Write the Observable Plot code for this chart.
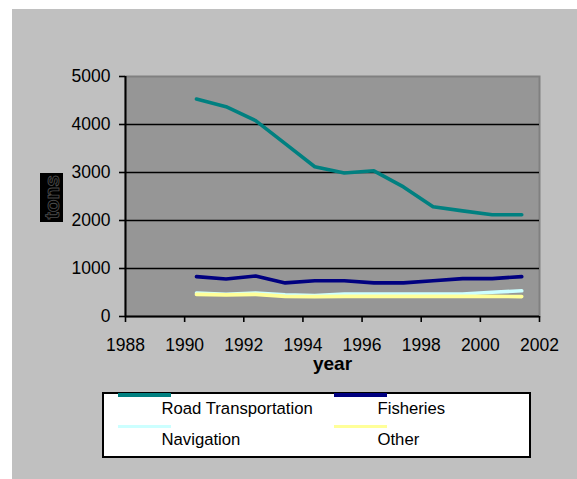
<!DOCTYPE html>
<html>
<head>
<meta charset="utf-8">
<script src="https://cdn.jsdelivr.net/npm/d3@7"></script>
<script src="https://cdn.jsdelivr.net/npm/@observablehq/plot@0.6"></script>
<style>
  html, body { margin: 0; padding: 0; background: #ffffff; }
  body { position: relative; width: 577px; height: 479px; overflow: hidden; font-family: "Liberation Sans", Arial, sans-serif; }
  #bg { position: absolute; left: 12px; top: 9px; width: 565px; height: 470px; background: #c0c0c0; }
  #chart { position: absolute; left: 0; top: 0; }
  #tons { position: absolute; left: 40px; top: 173px; width: 23px; height: 49px; background: #000;
          display: flex; align-items: center; justify-content: center; overflow: hidden; }
  #tons span { writing-mode: vertical-rl; transform: rotate(180deg); font-size: 21px; font-weight: bold;
               color: #000; -webkit-text-stroke: 0.9px #4a4a4a; line-height: 23px; }
  #legend { position: absolute; left: 102px; top: 392px; width: 425px; height: 62px; border: 2px solid #000; background: #fff; }
  #legend .sw { position: absolute; width: 53px; height: 3.5px; }
  #legend .lb { position: absolute; font-size: 16.7px; line-height: 20px; color: #000; white-space: nowrap; }
</style>
</head>
<body>
<div id="bg"></div>
<div id="chart"></div>
<div id="tons"><span>tons</span></div>
<div id="legend"></div>
<script>
// ---- data ----
const years = [1990.4, 1991.4, 1992.4, 1993.4, 1994.4, 1995.4, 1996.4, 1997.4, 1998.4, 1999.4, 2000.4, 2001.4];
const roadTransportation = [4530, 4370, 4080, 3600, 3120, 2990, 3035, 2700, 2285, 2200, 2120, 2120];
const fisheries = [830, 780, 845, 700, 745, 745, 700, 700, 745, 790, 790, 830];
const navigation = [490, 465, 490, 450, 435, 470, 470, 470, 470, 470, 505, 535];
const other = [460, 450, 460, 420, 415, 420, 420, 420, 420, 420, 420, 415];
const seriesNames = ["Road Transportation", "Fisheries", "Navigation", "Other"];
const seriesColors = ["#008080", "#000080", "#ccffff", "#ffff99"];
const xTicks = [1988, 1990, 1992, 1994, 1996, 1998, 2000, 2002];
const yTicks = [0, 1000, 2000, 3000, 4000, 5000];
const xLabel = "year";

const seriesValues = [roadTransportation, fisheries, navigation, other];
const tables = seriesValues.map((vals, s) => years.map((yr, i) => ({year: yr, value: vals[i], series: seriesNames[s]})));

const chart = Plot.plot({
  width: 577,
  height: 390,
  marginLeft: 125,
  marginRight: 38,
  marginTop: 76,
  marginBottom: 74,
  style: {background: "transparent", fontFamily: "'Liberation Sans', Arial, sans-serif", fontSize: "17.5px", color: "#000", overflow: "visible"},
  x: {domain: [xTicks[0], xTicks[xTicks.length - 1]], label: null},
  y: {domain: [yTicks[0], yTicks[yTicks.length - 1]], label: null},
  marks: [
    Plot.frame({fill: "#969696", stroke: "#808080", strokeWidth: 2}),
    Plot.gridY(yTicks.slice(1, -1), {stroke: "#000", strokeOpacity: 1, strokeWidth: 1.6}),
    ...tables.map((t, s) => Plot.line(t, {x: "year", y: "value", stroke: seriesColors[s], strokeWidth: 3.6})),
    Plot.ruleX([xTicks[0]], {stroke: "#000", strokeWidth: 2}),
    Plot.ruleY([yTicks[0]], {stroke: "#000", strokeWidth: 2}),
    Plot.axisX({ticks: xTicks, tickFormat: "d", tickSize: 6, tickPadding: 16, strokeWidth: 1.6, fontSize: 17.5, label: null}),
    Plot.axisY({ticks: yTicks, tickFormat: "d", tickSize: 6, tickPadding: 9, strokeWidth: 1.6, fontSize: 17.5, label: null}),
    Plot.text([xLabel], {frameAnchor: "bottom", dy: 53, text: d => d, fontWeight: "bold", fontSize: 19, fill: "#000"})
  ]
});
document.getElementById("chart").appendChild(chart);

// ---- legend ----
const legend = document.getElementById("legend");
const legendPos = [
  {sx: 13.7, sy: -1, lx: 57.5, ly: 5},
  {sx: 230, sy: -1, lx: 273.5, ly: 5},
  {sx: 13.7, sy: 30.5, lx: 57.5, ly: 36},
  {sx: 230, sy: 30.5, lx: 273.5, ly: 36}
];
seriesNames.forEach((name, i) => {
  const p = legendPos[i];
  const sw = document.createElement("div");
  sw.className = "sw";
  sw.style.left = p.sx + "px";
  sw.style.top = p.sy + "px";
  sw.style.background = seriesColors[i];
  legend.appendChild(sw);
  const lb = document.createElement("div");
  lb.className = "lb";
  lb.style.left = p.lx + "px";
  lb.style.top = p.ly + "px";
  lb.textContent = name;
  legend.appendChild(lb);
});
</script>
</body>
</html>
